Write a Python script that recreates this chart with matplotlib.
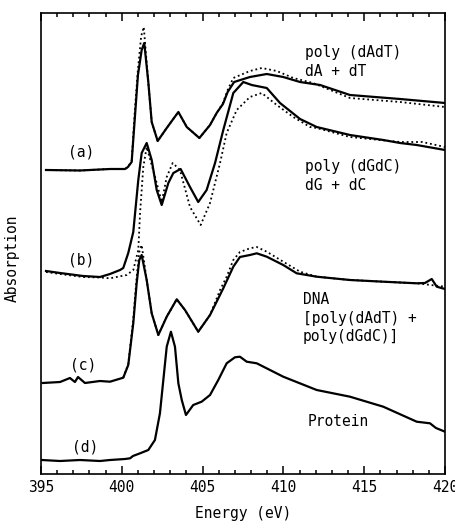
import matplotlib
matplotlib.use('Agg')
import matplotlib.pyplot as plt
from matplotlib.ticker import MultipleLocator

# ---------------------------------------------------------------------
# Spectra (energy in eV, absorption in arb. units,
# curves already stacked with their vertical offsets)
# ---------------------------------------------------------------------

# (a) poly(dAdT) -- solid
e_a = [395.31, 397.41, 399.27, 400.20, 400.38, 400.61, 400.82, 401.00, 401.23, 401.39,
       401.64, 401.85, 402.22, 402.78, 403.50, 404.02, 404.80, 405.46, 405.87, 406.26,
       406.55, 406.95, 407.93, 408.97, 409.99, 411.03, 412.27, 414.12, 417.22, 420.00]
a_a = [304, 303.5, 305, 305, 307, 312, 359, 399, 424, 431,
       392, 352, 333, 346, 362, 347, 336, 349, 361, 370,
       382, 392, 397, 400, 397, 392, 389, 379, 375, 371]

# (a) dA + dT -- dotted
e_a2 = [395.31, 397.41, 399.27, 400.20, 400.38, 400.61, 400.80, 401.00, 401.20, 401.36,
        401.62, 401.85, 402.22, 402.78, 403.50, 404.02, 404.80, 405.46, 405.87, 406.26,
        406.55, 406.90, 407.93, 408.66, 409.59, 410.61, 411.83, 414.12, 417.22, 420.00]
a_a2 = [304, 303.5, 305, 305, 307, 313, 362, 405, 438, 447,
        395, 352, 333, 346, 362, 347, 336, 349, 361, 371,
        384, 396, 403, 406, 403, 396, 391, 376, 372, 367]

# (b) poly(dGdC) -- solid
e_b = [395.31, 396.18, 397.60, 398.65, 399.27, 399.89, 400.09, 400.40, 400.71, 401.02,
       401.23, 401.54, 401.85, 402.16, 402.47, 402.88, 403.19, 403.64, 404.22, 404.73,
       405.25, 405.77, 406.28, 406.90, 407.52, 408.04, 408.97, 409.79, 411.03, 412.06,
       414.12, 416.18, 417.22, 418.25, 420.00]
a_b = [203, 201, 198, 197, 200, 204, 206, 221, 242, 294,
       321, 331, 314, 284, 269, 291, 301, 305, 287, 272,
       284, 311, 344, 381, 392, 389, 386, 371, 355, 347,
       339, 334, 331, 329, 324]

# (b) dG + dC -- dotted
e_b2 = [395.31, 396.18, 397.60, 398.65, 399.27, 400.30, 400.71, 400.82, 401.02, 401.13,
        401.33, 401.54, 402.16, 402.47, 402.78, 403.15, 403.60, 404.22, 404.88, 405.46,
        406.08, 406.49, 407.11, 407.93, 408.66, 409.59, 410.61, 411.65, 412.06, 414.12,
        417.22, 418.60, 420.00]
a_b2 = [202, 200, 197, 196.5, 195.7, 199, 204, 211, 224, 261,
        307, 327, 291, 272, 297, 311, 304, 267, 249, 271,
        311, 341, 364, 377, 381, 369, 357, 347, 346, 337,
        332, 332, 327]

# (c) DNA -- solid
e_c = [395.10, 396.18, 396.79, 397.10, 397.29, 397.72, 398.65, 399.27, 400.09, 400.40,
       400.71, 400.92, 401.08, 401.23, 401.54, 401.85, 402.26, 402.78, 403.40, 403.91,
       404.73, 405.46, 406.28, 406.90, 407.31, 407.93, 408.35, 408.97, 409.99, 410.82,
       412.06, 414.12, 416.18, 418.25, 418.76, 419.18, 419.49, 420.00]
a_c = [91, 92, 96, 92, 97, 91, 93, 92.3, 96.3, 109,
       150.7, 190.7, 214, 219, 194, 160.7, 139, 157.3, 174.7, 164,
       142.3, 159, 185.7, 207.3, 217, 219, 220.7, 217.3, 209, 200.7,
       197.3, 194, 192.3, 190.7, 191, 195, 187.3, 185]

# (c) poly(dAdT) + poly(dGdC) -- dotted
e_c2 = [400.09, 400.40, 400.71, 400.92, 401.08, 401.23, 401.40, 401.54, 401.85, 402.26,
        402.78, 403.40, 403.91, 404.73, 405.46, 406.08, 406.49, 406.90, 407.31, 407.93,
        408.35, 408.97, 409.99, 411.03, 412.06, 414.12, 416.18, 418.25, 420.00]
a_c2 = [96.3, 110, 155, 197, 222, 229, 210, 194, 160.7, 139,
        157.3, 174.7, 164, 142.3, 159, 184, 197.3, 214, 222, 225.7,
        227, 222.3, 212.3, 202.3, 197.3, 194, 192.3, 190.7, 187.3]

# (d) Protein -- solid
e_d = [395.04, 396.18, 397.41, 398.65, 399.27, 400.20, 400.51, 400.69, 401.13, 401.64,
       402.05, 402.36, 402.57, 402.78, 403.04, 403.29, 403.50, 403.71, 403.97, 404.42,
       404.94, 405.46, 405.97, 406.49, 407.00, 407.31, 407.73, 408.35, 409.99, 412.06,
       414.12, 416.18, 418.25, 419.07, 419.44, 420.00]
a_d = [14, 13, 14, 13, 14, 15, 15.7, 18, 20.7, 24,
       34, 60.7, 94, 127.3, 142.3, 127.3, 90.7, 74, 59, 69,
       72.3, 79, 94, 110.7, 116.7, 117.3, 112.3, 110.7, 97.3, 84,
       77.3, 67.3, 52.3, 50.7, 46, 42.3]

curve_tags = ['(a)', '(b)', '(c)', '(d)']
tag_x = [397.48, 397.48, 397.63, 397.75]
tag_y = [322, 214, 109, 27]

#----------------------------------------------------------------------

plt.rcParams['font.family'] = 'DejaVu Sans Mono'
plt.rcParams['font.size'] = 10.5

fig = plt.figure(figsize=(4.55, 5.24), dpi=100)
ax = fig.add_axes([41/455, 1 - 474/524, 404/455, 461/524])

solid = dict(color='black', linestyle='-', linewidth=1.6)
dotted = dict(color='black', linestyle=(0, (1, 1.6)), linewidth=1.3)

ax.plot(e_a2, a_a2, **dotted)
ax.plot(e_a, a_a, **solid)
ax.plot(e_b2, a_b2, **dotted)
ax.plot(e_b, a_b, **solid)
ax.plot(e_c2, a_c2, **dotted)
ax.plot(e_c, a_c, **solid)
ax.plot(e_d, a_d, **solid)

# Curve labels ========================================================

for t, x, y in zip(curve_tags, tag_x, tag_y):
    ax.text(x, y, t, ha='center', va='center')

ax.text(411.34, 422, 'poly (dAdT)', va='center')
ax.text(411.34, 403, 'dA + dT', va='center')
ax.text(411.34, 307, 'poly (dGdC)', va='center')
ax.text(411.34, 289, 'dG + dC', va='center')
ax.text(411.21, 175, 'DNA', va='center')
ax.text(411.21, 155, '[poly(dAdT) +', va='center')
ax.text(411.21, 137, 'poly(dGdC)]', va='center')
ax.text(411.52, 53, 'Protein', va='center')

#======================================================================

ax.set_xlim(395, 420)
ax.set_ylim(0, 461)

ax.xaxis.set_major_locator(MultipleLocator(5))
ax.xaxis.set_minor_locator(MultipleLocator(1))
ax.tick_params(axis='x', which='both', direction='in', top=True, bottom=True, width=1.1)
ax.tick_params(axis='x', which='major', length=6, pad=4)
ax.tick_params(axis='x', which='minor', length=3)
ax.set_yticks([])

for s in ax.spines.values():
    s.set_linewidth(1.2)

ax.set_xlabel('Energy (eV)', labelpad=8)
ax.set_ylabel('Absorption')
ax.yaxis.set_label_coords(-0.052, 0.469)

plt.savefig('out.png', dpi=100)
